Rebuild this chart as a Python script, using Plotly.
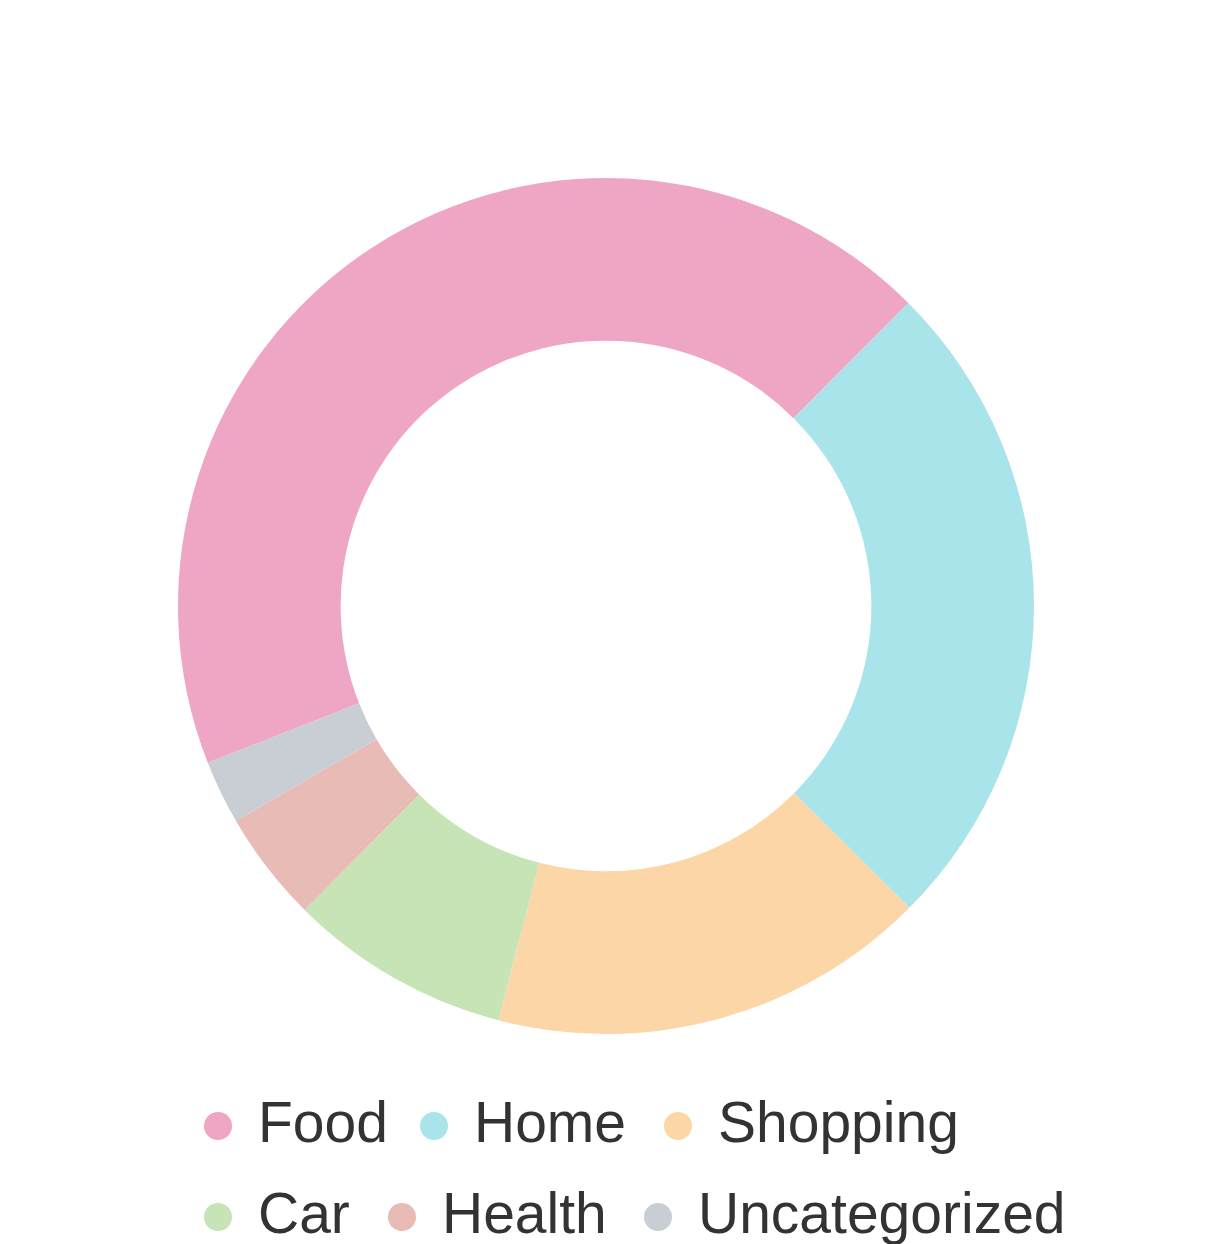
import plotly.graph_objects as go

categories = ["Food", "Home", "Shopping", "Car", "Health", "Uncategorized"]
values = [43.5, 25.0, 16.6, 8.4, 4.2, 2.4]
colors = ["#EEA6C4", "#AAE4EB", "#FDD6A7", "#C6E4B5", "#E8BBB7", "#C9CED4"]

W, H = 1212, 1244
# legend entry layout (pixel positions of marker centres)
legend_marker_x = [218, 434, 678, 218, 402, 658]
legend_row_y = [1126, 1126, 1126, 1217, 1217, 1217]
text_center_offset = -6
marker_r = 14

fig = go.Figure()
fig.add_trace(go.Pie(
    labels=categories, values=values, sort=False, direction="clockwise",
    rotation=248.5, hole=0.62, textinfo="none",
    marker=dict(colors=colors, line=dict(width=0)),
    domain=dict(x=[0, 1], y=[(H - 1034) / H, (H - 178) / H]),
    showlegend=False,
))

layout_legends = {}
shapes = []
for i, (c, col) in enumerate(zip(categories, colors)):
    key = "legend" if i == 0 else f"legend{i + 1}"
    fig.add_trace(go.Scatter(
        x=[None], y=[None], mode="markers", name=c,
        marker=dict(symbol="circle", size=16, color="rgba(0,0,0,0)",
                    line=dict(width=0, color="rgba(0,0,0,0)")),
        legend=key,
    ))
    mx, my = legend_marker_x[i], legend_row_y[i]
    layout_legends[key] = dict(
        orientation="h", xanchor="left", yanchor="middle",
        x=mx / W, y=(H - (my + text_center_offset)) / H,
        font=dict(family="Liberation Sans, Arial, sans-serif", size=57, color="#333333"),
        bgcolor="rgba(0,0,0,0)",
    )
    shapes.append(dict(
        type="circle", xref="paper", yref="paper", line=dict(width=0), fillcolor=col,
        x0=(mx - marker_r) / W, x1=(mx + marker_r) / W,
        y0=(H - my - marker_r) / H, y1=(H - my + marker_r) / H,
    ))

fig.update_layout(
    width=W, height=H, margin=dict(l=0, r=0, t=0, b=0, autoexpand=False),
    paper_bgcolor="white", plot_bgcolor="white",
    xaxis=dict(visible=False), yaxis=dict(visible=False),
    shapes=shapes,
    **layout_legends,
)
fig.write_html("out.html")
